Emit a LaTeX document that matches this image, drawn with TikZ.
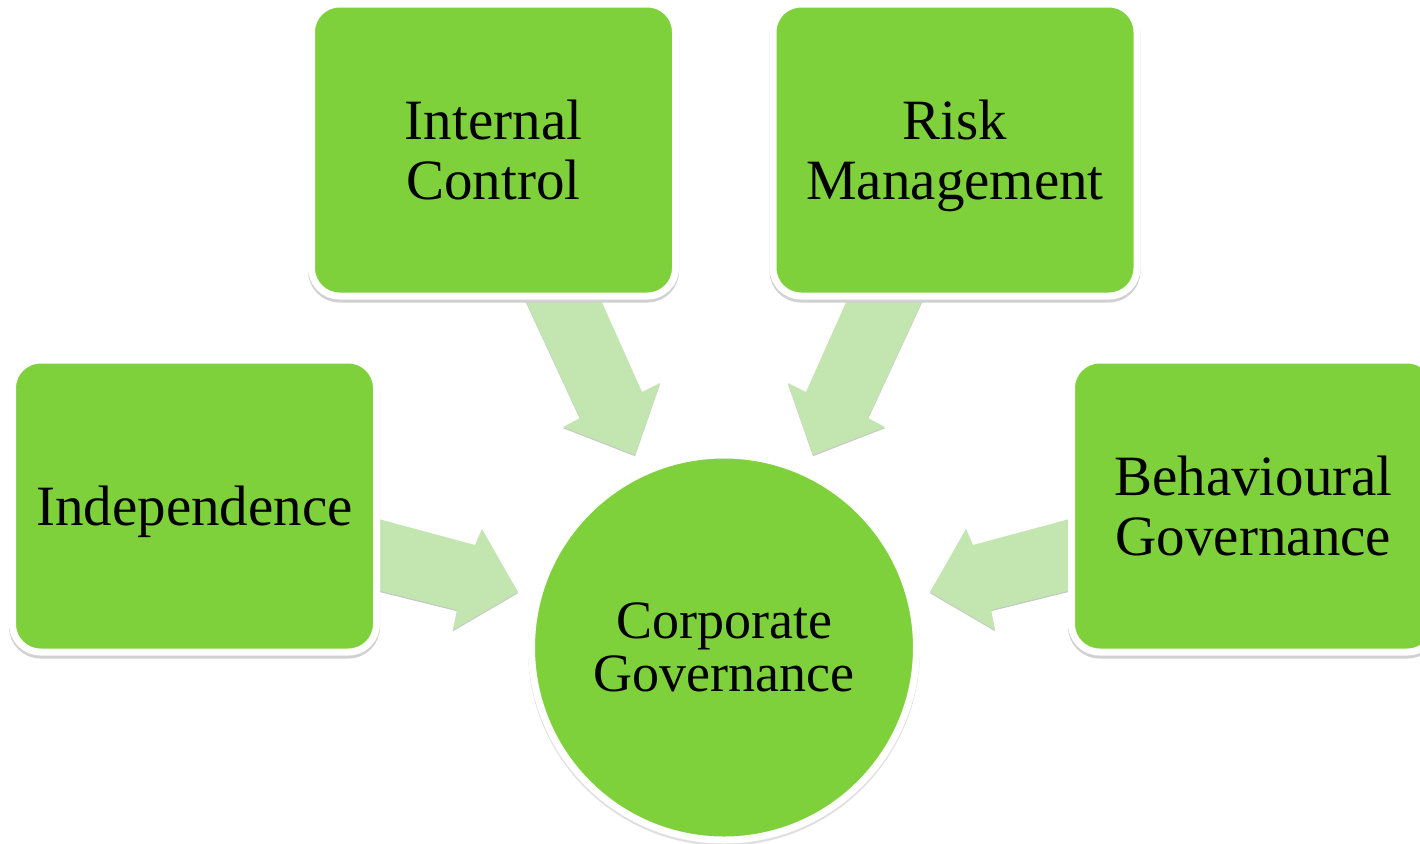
\documentclass[tikz,border=0pt]{standalone}
\usepackage{fontspec}
\setmainfont{Liberation Serif}
\definecolor{boxgreen}{RGB}{126,209,58}
\definecolor{arrowgreen}{RGB}{195,229,175}
\begin{document}
\begin{tikzpicture}[x=0.5pt,y=-0.5pt,
  boxstyle/.style={rectangle, rounded corners=14pt, fill=boxgreen, draw=white,
    line width=3.5pt, minimum width=182pt, minimum height=146pt, inner sep=0pt,
    align=center, text depth=0pt, font=\fontsize{28.5}{30}\selectfont,
    preaction={draw=black!18, line width=3.5pt, transform canvas={yshift=-1.5pt}}},
  hubstyle/.style={circle, fill=boxgreen, draw=white, line width=3.5pt,
    minimum size=192.5pt, inner sep=0pt, align=center, text depth=0pt,
    font=\fontsize{27}{26.5}\selectfont,
    preaction={draw=black!12, line width=3.5pt, transform canvas={yshift=-1.2pt}}},
  blockarrow/.style={fill=arrowgreen,
    preaction={fill=black!22, transform canvas={yshift=-0.6pt}}}]
\useasboundingbox (0,0) rectangle (1420,843);
% block arrows (drawn first, partly hidden under the boxes)
\fill[blockarrow] (516,280) -- (592,280) -- (642,392) -- (660,383) -- (635,455) -- (563,427) -- (580,418) -- cycle;
\fill[blockarrow] (932,280) -- (856,280) -- (806,392) -- (788,383) -- (813,455) -- (885,427) -- (868,418) -- cycle;
\fill[blockarrow] (360,514) -- (475,545) -- (482,529) -- (518,592) -- (453,630) -- (457,610) -- (360,586) -- cycle;
\fill[blockarrow] (1088,514) -- (973,545) -- (966,529) -- (930,592) -- (995,630) -- (991,610) -- (1088,586) -- cycle;
% boxes
\node[boxstyle] (ic) at (493.5,150) {Internal\\Control};
\node[boxstyle] (rm) at (955,150) {Risk\\Management};
\node[boxstyle] (ind) at (194.5,506) {Independence};
\node[boxstyle] (bg) at (1253.5,506) {Behavioural\\Governance};
\node[hubstyle] (cg) at (724,647.5) {Corporate\\Governance};
\end{tikzpicture}
\end{document}
